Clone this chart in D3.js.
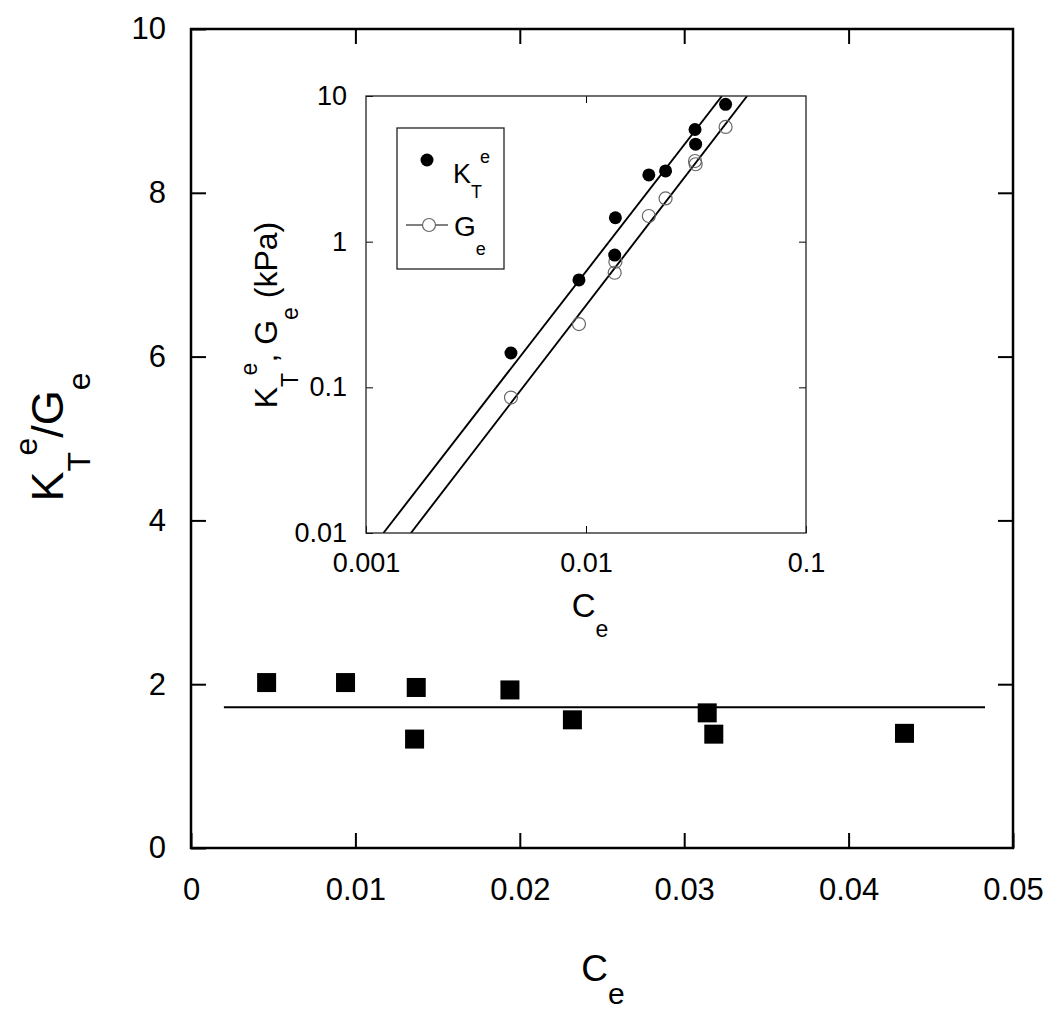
<!DOCTYPE html>
<html>
<head>
<meta charset="utf-8">
<script src="https://cdn.jsdelivr.net/npm/d3@7"></script>
<style>
	body { margin: 0; background: #fff; }
	text { font-family: "Liberation Sans", Arial, sans-serif; fill: #000; }
</style>
</head>
<body>
<div class="chart"></div>
<script>
var outerW = 1050,
	outerH = 1024;

// Main plot: ratio K_T^e / G_e against C_e
var ratioC = [0.0046, 0.0094, 0.0137, 0.0136, 0.0194, 0.0232, 0.0314, 0.0318, 0.0434];
var ratioVal = [2.02, 2.02, 1.96, 1.33, 1.93, 1.565, 1.65, 1.39, 1.40];
var ratioFit = [[0.002, 1.72], [0.0483, 1.72]];

var xTicks = [0, 0.01, 0.02, 0.03, 0.04, 0.05];
var xTickLabels = ["0", "0.01", "0.02", "0.03", "0.04", "0.05"];
var yTicks = [0, 2, 4, 6, 8, 10];
var yTickLabels = ["0", "2", "4", "6", "8", "10"];

// Inset: K_T^e and G_e (kPa) against C_e, log-log
var insetC = [0.00456, 0.00929, 0.0136, 0.0135, 0.0193, 0.0230, 0.0313, 0.0315, 0.0431];
var kT = [0.172, 0.546, 1.46, 0.809, 2.87, 3.06, 5.89, 4.67, 8.77];
var gE = [0.0851, 0.272, 0.728, 0.612, 1.50, 1.98, 3.58, 3.40, 6.13];
var kFit = [[0.0012, 0.01], [0.0415, 10]];
var gFit = [[0.0016, 0.01], [0.054, 10]];

var insetXTicks = [0.001, 0.01, 0.1];
var insetXTickLabels = ["0.001", "0.01", "0.1"];
var insetYTicks = [0.01, 0.1, 1, 10];
var insetYTickLabels = ["0.01", "0.1", "1", "10"];

var svg = d3.select(".chart")
	.append("svg")
	.attr("width", outerW)
	.attr("height", outerH);

/********************************************************************
 * Main plot
 ********************************************************************/

var mLeft = 191, mRight = 1013, mTop = 29, mBottom = 848;

var x = d3.scaleLinear().domain([0, 0.05]).range([mLeft, mRight]);
var y = d3.scaleLinear().domain([0, 10]).range([mBottom, mTop]);

function styleTicks(g, w) {
	g.select(".domain").remove();
	g.selectAll(".tick line").attr("stroke", "#000").attr("stroke-width", w);
	g.selectAll(".tick text").attr("fill", "#000");
}

svg.append("g")
	.attr("transform", "translate(0," + mBottom + ")")
	.call(d3.axisBottom(x).tickValues(xTicks).tickSize(-15).tickPadding(30)
		.tickFormat((d, i) => xTickLabels[i]))
	.call(g => styleTicks(g, 2))
	.selectAll("text").style("font-size", "31px").style("font-family", "Liberation Sans, Arial");

svg.append("g")
	.attr("transform", "translate(0," + mTop + ")")
	.call(d3.axisTop(x).tickValues(xTicks.slice(1, -1)).tickSize(-15).tickFormat(""))
	.call(g => styleTicks(g, 2));

svg.append("g")
	.attr("transform", "translate(" + mLeft + ",0)")
	.call(d3.axisLeft(y).tickValues(yTicks).tickSize(-15).tickPadding(25)
		.tickFormat((d, i) => yTickLabels[i]))
	.call(g => styleTicks(g, 2))
	.selectAll("text").style("font-size", "31px").style("font-family", "Liberation Sans, Arial");

svg.append("g")
	.attr("transform", "translate(" + mRight + ",0)")
	.call(d3.axisRight(y).tickValues(yTicks.slice(1, -1)).tickSize(-15).tickFormat(""))
	.call(g => styleTicks(g, 2));

svg.append("rect")
	.attr("x", mLeft).attr("y", mTop)
	.attr("width", mRight - mLeft).attr("height", mBottom - mTop)
	.attr("fill", "none").attr("stroke", "#000").attr("stroke-width", 2.5);

svg.append("path")
	.attr("d", d3.line().x(d => x(d[0])).y(d => y(d[1]))(ratioFit))
	.attr("stroke", "#000").attr("stroke-width", 2).attr("fill", "none");

var sq = 19;
svg.selectAll(".sq")
	.data(ratioC)
	.join("rect")
	.attr("class", "sq")
	.attr("x", (d, i) => x(d) - sq / 2)
	.attr("y", (d, i) => y(ratioVal[i]) - sq / 2)
	.attr("width", sq).attr("height", sq)
	.attr("fill", "#000");

// Axis titles
var xTitle = svg.append("text")
	.attr("x", 603).attr("y", 981)
	.attr("text-anchor", "middle");
xTitle.append("tspan").style("font-size", "37px").text("C");
xTitle.append("tspan").style("font-size", "30px").attr("dy", 23).text("e");

var yTitle = svg.append("text")
	.attr("transform", "translate(63,437) rotate(-90)")
	.attr("text-anchor", "middle");
yTitle.append("tspan").style("font-size", "45px").text("K");
yTitle.append("tspan").style("font-size", "32px").attr("dy", 27).text("T");
yTitle.append("tspan").style("font-size", "32px").attr("dy", -53).text("e");
yTitle.append("tspan").style("font-size", "45px").attr("dy", 26).text("/G");
yTitle.append("tspan").style("font-size", "32px").attr("dy", 27).text("e");

/********************************************************************
 * Inset
 ********************************************************************/

var iL = 366, iR = 806, iT = 96, iB = 533;

var xl = d3.scaleLog().domain([0.001, 0.1]).range([iL, iR]);
var yl = d3.scaleLog().domain([0.01, 10]).range([iB, iT]);

svg.append("rect")
	.attr("x", iL).attr("y", iT)
	.attr("width", iR - iL).attr("height", iB - iT)
	.attr("fill", "#fff");

svg.append("defs").append("clipPath")
	.attr("id", "insetClip")
	.append("rect")
	.attr("x", iL).attr("y", iT)
	.attr("width", iR - iL).attr("height", iB - iT);

svg.append("g")
	.attr("transform", "translate(0," + iB + ")")
	.call(d3.axisBottom(xl).tickValues(insetXTicks).tickSize(-7).tickPadding(20)
		.tickFormat((d, i) => insetXTickLabels[i]))
	.call(g => styleTicks(g, 1))
	.selectAll("text").style("font-size", "27px").style("font-family", "Liberation Sans, Arial");

svg.append("g")
	.attr("transform", "translate(0," + iT + ")")
	.call(d3.axisTop(xl).tickValues([0.01]).tickSize(-7).tickFormat(""))
	.call(g => styleTicks(g, 1));

svg.append("g")
	.attr("transform", "translate(" + iL + ",0)")
	.call(d3.axisLeft(yl).tickValues(insetYTicks).tickSize(-7).tickPadding(19)
		.tickFormat((d, i) => insetYTickLabels[i]))
	.call(g => styleTicks(g, 1))
	.selectAll("text").style("font-size", "27px").style("font-family", "Liberation Sans, Arial");

svg.append("g")
	.attr("transform", "translate(" + iR + ",0)")
	.call(d3.axisRight(yl).tickValues([0.1, 1]).tickSize(-7).tickFormat(""))
	.call(g => styleTicks(g, 1));

var fitLine = d3.line().x(d => xl(d[0])).y(d => yl(d[1]));
[kFit, gFit].forEach(function(f) {
	svg.append("path")
		.attr("d", fitLine(f))
		.attr("clip-path", "url(#insetClip)")
		.attr("stroke", "#000").attr("stroke-width", 1.9).attr("fill", "none");
});

svg.selectAll(".gpt")
	.data(insetC)
	.join("circle")
	.attr("class", "gpt")
	.attr("cx", d => xl(d))
	.attr("cy", (d, i) => yl(gE[i]))
	.attr("r", 6.5)
	.attr("fill", "none")
	.attr("stroke", "#666").attr("stroke-width", 1.2);

svg.selectAll(".kpt")
	.data(insetC)
	.join("circle")
	.attr("class", "kpt")
	.attr("cx", d => xl(d))
	.attr("cy", (d, i) => yl(kT[i]))
	.attr("r", 6.5)
	.attr("fill", "#000");

svg.append("rect")
	.attr("x", iL).attr("y", iT)
	.attr("width", iR - iL).attr("height", iB - iT)
	.attr("fill", "none").attr("stroke", "#222").attr("stroke-width", 1.3);

// Inset titles
var ixTitle = svg.append("text")
	.attr("x", 590).attr("y", 617)
	.attr("text-anchor", "middle");
ixTitle.append("tspan").style("font-size", "33px").text("C");
ixTitle.append("tspan").style("font-size", "23px").attr("dy", 20).text("e");

var iyTitle = svg.append("text")
	.attr("transform", "translate(277,315) rotate(-90)")
	.attr("text-anchor", "middle");
iyTitle.append("tspan").style("font-size", "32px").text("K");
iyTitle.append("tspan").style("font-size", "23px").attr("dy", 21).text("T");
iyTitle.append("tspan").style("font-size", "23px").attr("dy", -41).text("e");
iyTitle.append("tspan").style("font-size", "32px").attr("dy", 20).text(", G");
iyTitle.append("tspan").style("font-size", "23px").attr("dy", 21).text("e");
iyTitle.append("tspan").style("font-size", "32px").attr("dy", -21).text(" (kPa)");

// Legend
var lg = svg.append("g");
lg.append("rect")
	.attr("x", 397).attr("y", 128)
	.attr("width", 107).attr("height", 141)
	.attr("fill", "#fff").attr("stroke", "#222").attr("stroke-width", 1.3);
lg.append("circle")
	.attr("cx", 427).attr("cy", 160).attr("r", 6.5).attr("fill", "#000");
lg.append("line")
	.attr("x1", 406).attr("x2", 448).attr("y1", 225).attr("y2", 225)
	.attr("stroke", "#000").attr("stroke-width", 1);
lg.append("circle")
	.attr("cx", 429).attr("cy", 225).attr("r", 6.5)
	.attr("fill", "#fff").attr("stroke", "#666").attr("stroke-width", 1.2);

var lk = lg.append("text").attr("x", 453).attr("y", 183);
lk.append("tspan").style("font-size", "27px").text("K");
lk.append("tspan").style("font-size", "18px").attr("dy", 15).text("T");
lk.append("tspan").style("font-size", "18px").attr("dy", -35).text("e");

var lgE = lg.append("text").attr("x", 454).attr("y", 236);
lgE.append("tspan").style("font-size", "28px").text("G");
lgE.append("tspan").style("font-size", "18px").attr("dy", 19).text("e");
</script>
</body>
</html>
